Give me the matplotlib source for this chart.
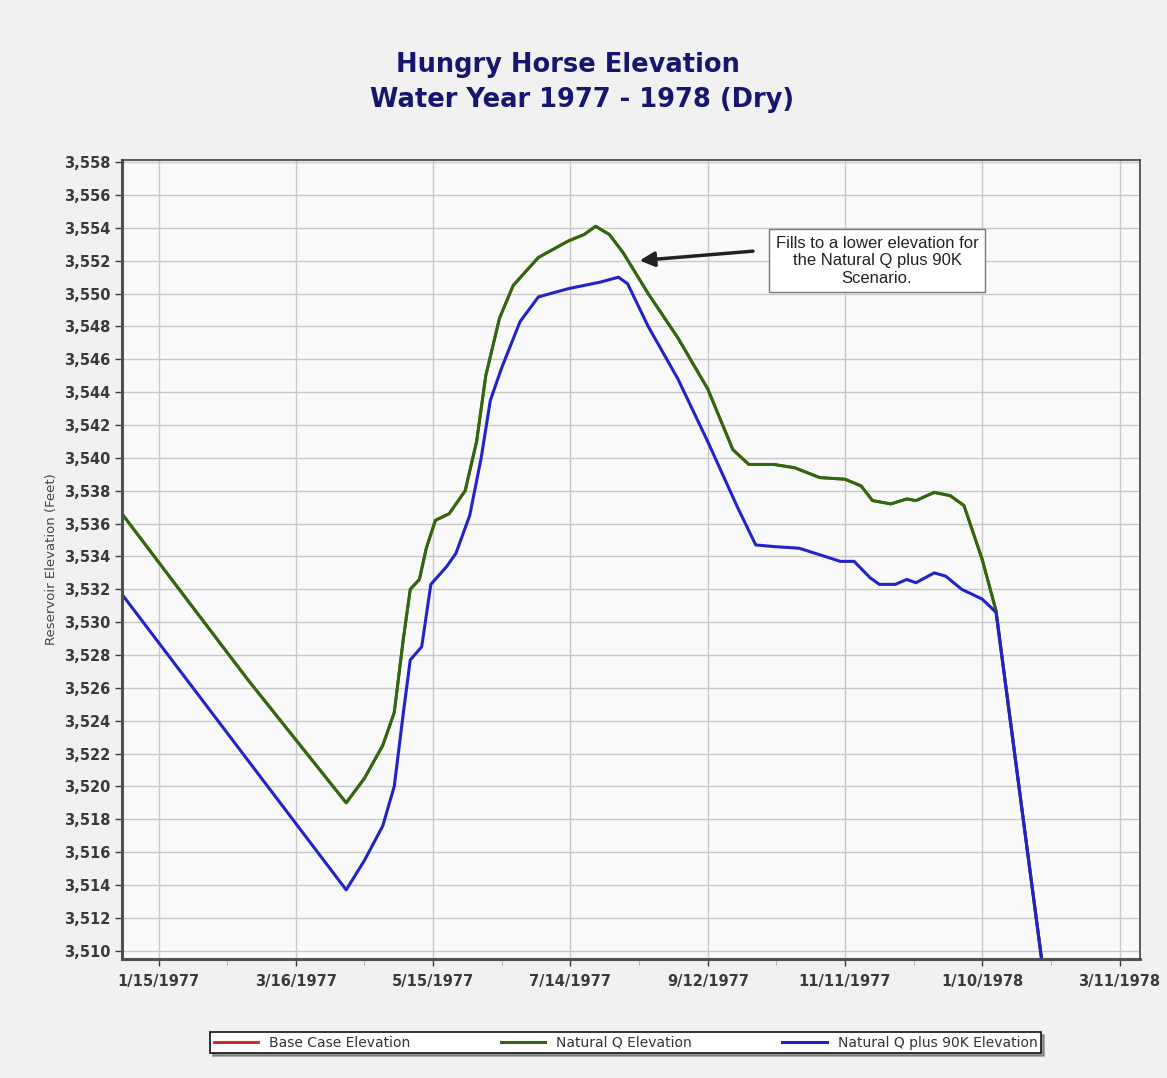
import matplotlib.pyplot as plt
import matplotlib.dates as mdates
import numpy as np
import pandas as pd
from matplotlib.ticker import FuncFormatter, MultipleLocator

# Natural Q elevation (ft)
natq_dates = ['1976-12-30', '1977-01-24', '1977-02-23', '1977-04-07', '1977-04-15',
              '1977-04-23', '1977-04-28', '1977-05-02', '1977-05-05', '1977-05-09',
              '1977-05-12', '1977-05-16', '1977-05-22', '1977-05-29', '1977-06-03',
              '1977-06-07', '1977-06-13', '1977-06-19', '1977-06-30', '1977-07-13',
              '1977-07-20', '1977-07-25', '1977-07-31', '1977-08-06', '1977-08-17',
              '1977-08-30', '1977-09-12', '1977-09-23', '1977-09-30', '1977-10-11',
              '1977-10-20', '1977-10-31', '1977-11-11', '1977-11-18', '1977-11-23',
              '1977-12-01', '1977-12-08', '1977-12-12', '1977-12-20', '1977-12-27',
              '1978-01-02', '1978-01-10', '1978-01-16', '1978-02-05', '1978-02-14']
natq_elev = [3536.6, 3532.0, 3526.5, 3519.0, 3520.5,
             3522.5, 3524.5, 3529.0, 3532.0, 3532.6,
             3534.5, 3536.2, 3536.6, 3538.0, 3541.0,
             3545.0, 3548.5, 3550.5, 3552.2, 3553.2,
             3553.6, 3554.1, 3553.6, 3552.5, 3550.0,
             3547.3, 3544.2, 3540.5, 3539.6, 3539.6,
             3539.4, 3538.8, 3538.7, 3538.3, 3537.4,
             3537.2, 3537.5, 3537.4, 3537.9, 3537.7,
             3537.1, 3533.8, 3530.7, 3509.4, 3500.0]

# Natural Q plus 90K elevation (ft)
q90_dates = ['1976-12-30', '1977-04-07', '1977-04-15', '1977-04-23', '1977-04-28',
             '1977-05-02', '1977-05-05', '1977-05-10', '1977-05-14', '1977-05-21',
             '1977-05-25', '1977-05-31', '1977-06-05', '1977-06-09', '1977-06-14',
             '1977-06-22', '1977-06-30', '1977-07-13', '1977-07-27', '1977-08-04',
             '1977-08-08', '1977-08-17', '1977-08-30', '1977-09-12', '1977-09-25',
             '1977-10-03', '1977-10-11', '1977-10-22', '1977-10-31', '1977-11-09',
             '1977-11-15', '1977-11-22', '1977-11-26', '1977-12-03', '1977-12-08',
             '1977-12-12', '1977-12-20', '1977-12-25', '1978-01-01', '1978-01-10',
             '1978-01-16', '1978-02-05', '1978-02-14']
q90_elev = [3531.7, 3513.7, 3515.5, 3517.6, 3520.0,
            3524.5, 3527.7, 3528.5, 3532.3, 3533.4,
            3534.2, 3536.5, 3540.0, 3543.5, 3545.5,
            3548.3, 3549.8, 3550.3, 3550.7, 3551.0,
            3550.6, 3548.0, 3544.8, 3541.0, 3537.0,
            3534.7, 3534.6, 3534.5, 3534.1, 3533.7,
            3533.7, 3532.7, 3532.3, 3532.3, 3532.6,
            3532.4, 3533.0, 3532.8, 3532.0, 3531.4,
            3530.6, 3509.4, 3500.0]

# base case sits underneath the Natural Q line
base_dates = natq_dates
base_elev = natq_elev

tick_dates = ['1977-01-15', '1977-03-16', '1977-05-15', '1977-07-14',
              '1977-09-12', '1977-11-11', '1978-01-10', '1978-03-11']

fig = plt.figure(figsize=(11.67, 10.78), dpi=100, facecolor='#f1f1f1')
ax = fig.add_axes([0.1045, 0.1105, 0.8725, 0.7413])
ax.set_facecolor('#f9f9f9')

ax.plot(pd.to_datetime(base_dates), base_elev, color='#d01c1c', lw=2, label='Base Case Elevation')
ax.plot(pd.to_datetime(natq_dates), natq_elev, color='#2c6a10', lw=2.2, label='Natural Q Elevation')
ax.plot(pd.to_datetime(q90_dates), q90_elev, color='#2222c8', lw=2.2, label='Natural Q plus 90K Elevation')

ax.set_xlim(pd.Timestamp('1976-12-30'), pd.Timestamp('1978-03-20'))
ax.set_ylim(3509.5, 3558.15)

ticks = pd.to_datetime(tick_dates)
ax.set_xticks(ticks)
ax.set_xticklabels([f'{t.month}/{t.day}/{t.year}' for t in ticks])
ax.set_xticks(ticks[:-1] + pd.Timedelta(days=30), minor=True)
ax.yaxis.set_major_locator(MultipleLocator(2))
ax.yaxis.set_major_formatter(FuncFormatter(lambda v, p: f'{v:,.0f}'))

ax.grid(True, which='major', color='#c8c8c8', lw=1)
ax.tick_params(axis='both', which='major', labelsize=10.5, colors='#3a3a3a', length=5, width=1)
ax.tick_params(axis='x', which='minor', length=4, color='#aaaaaa')
ax.tick_params(axis='x', pad=6)
for lab in ax.get_xticklabels() + ax.get_yticklabels():
    lab.set_fontweight('semibold')

for side in ['left', 'bottom']:
    ax.spines[side].set_color('#505050')
    ax.spines[side].set_linewidth(2.2)
for side in ['top', 'right']:
    ax.spines[side].set_color('#404040')
    ax.spines[side].set_linewidth(1.2)

ax.set_ylabel('Reservoir Elevation (Feet)', fontsize=9.5, color='#444444', labelpad=4)

fig.text(0.487, 0.94, 'Hungry Horse Elevation', ha='center', va='center',
         fontsize=18.5, fontweight='bold', color='#16166e')
fig.text(0.499, 0.907, 'Water Year 1977 - 1978 (Dry)', ha='center', va='center',
         fontsize=18.5, fontweight='bold', color='#16166e')

# callout box with arrow
ax.annotate('', xy=(pd.Timestamp('1977-08-12'), 3552.0), xytext=(pd.Timestamp('1977-10-03'), 3552.6),
            arrowprops=dict(arrowstyle='-|>', color='#222222', lw=2.5, mutation_scale=22))
ax.text(pd.Timestamp('1977-11-25'), 3552.0, 'Fills to a lower elevation for\nthe Natural Q plus 90K\nScenario.',
        ha='center', va='center', fontsize=12, family='Liberation Sans', color='#222222',
        linespacing=1.2,
        bbox=dict(boxstyle='square,pad=0.4', facecolor='white', edgecolor='#777777', lw=1))

leg = fig.legend(loc='center', bbox_to_anchor=(0.536, 0.0325), ncol=3, frameon=True,
                 fontsize=10, handlelength=3.2, columnspacing=6.5, borderpad=0.25,
                 fancybox=False, shadow=True)
leg.get_frame().set_edgecolor('#111111')
leg.get_frame().set_linewidth(1.2)
for t in leg.get_texts():
    t.set_color('#333333')

fig.savefig('out.png', dpi=100, facecolor=fig.get_facecolor())
